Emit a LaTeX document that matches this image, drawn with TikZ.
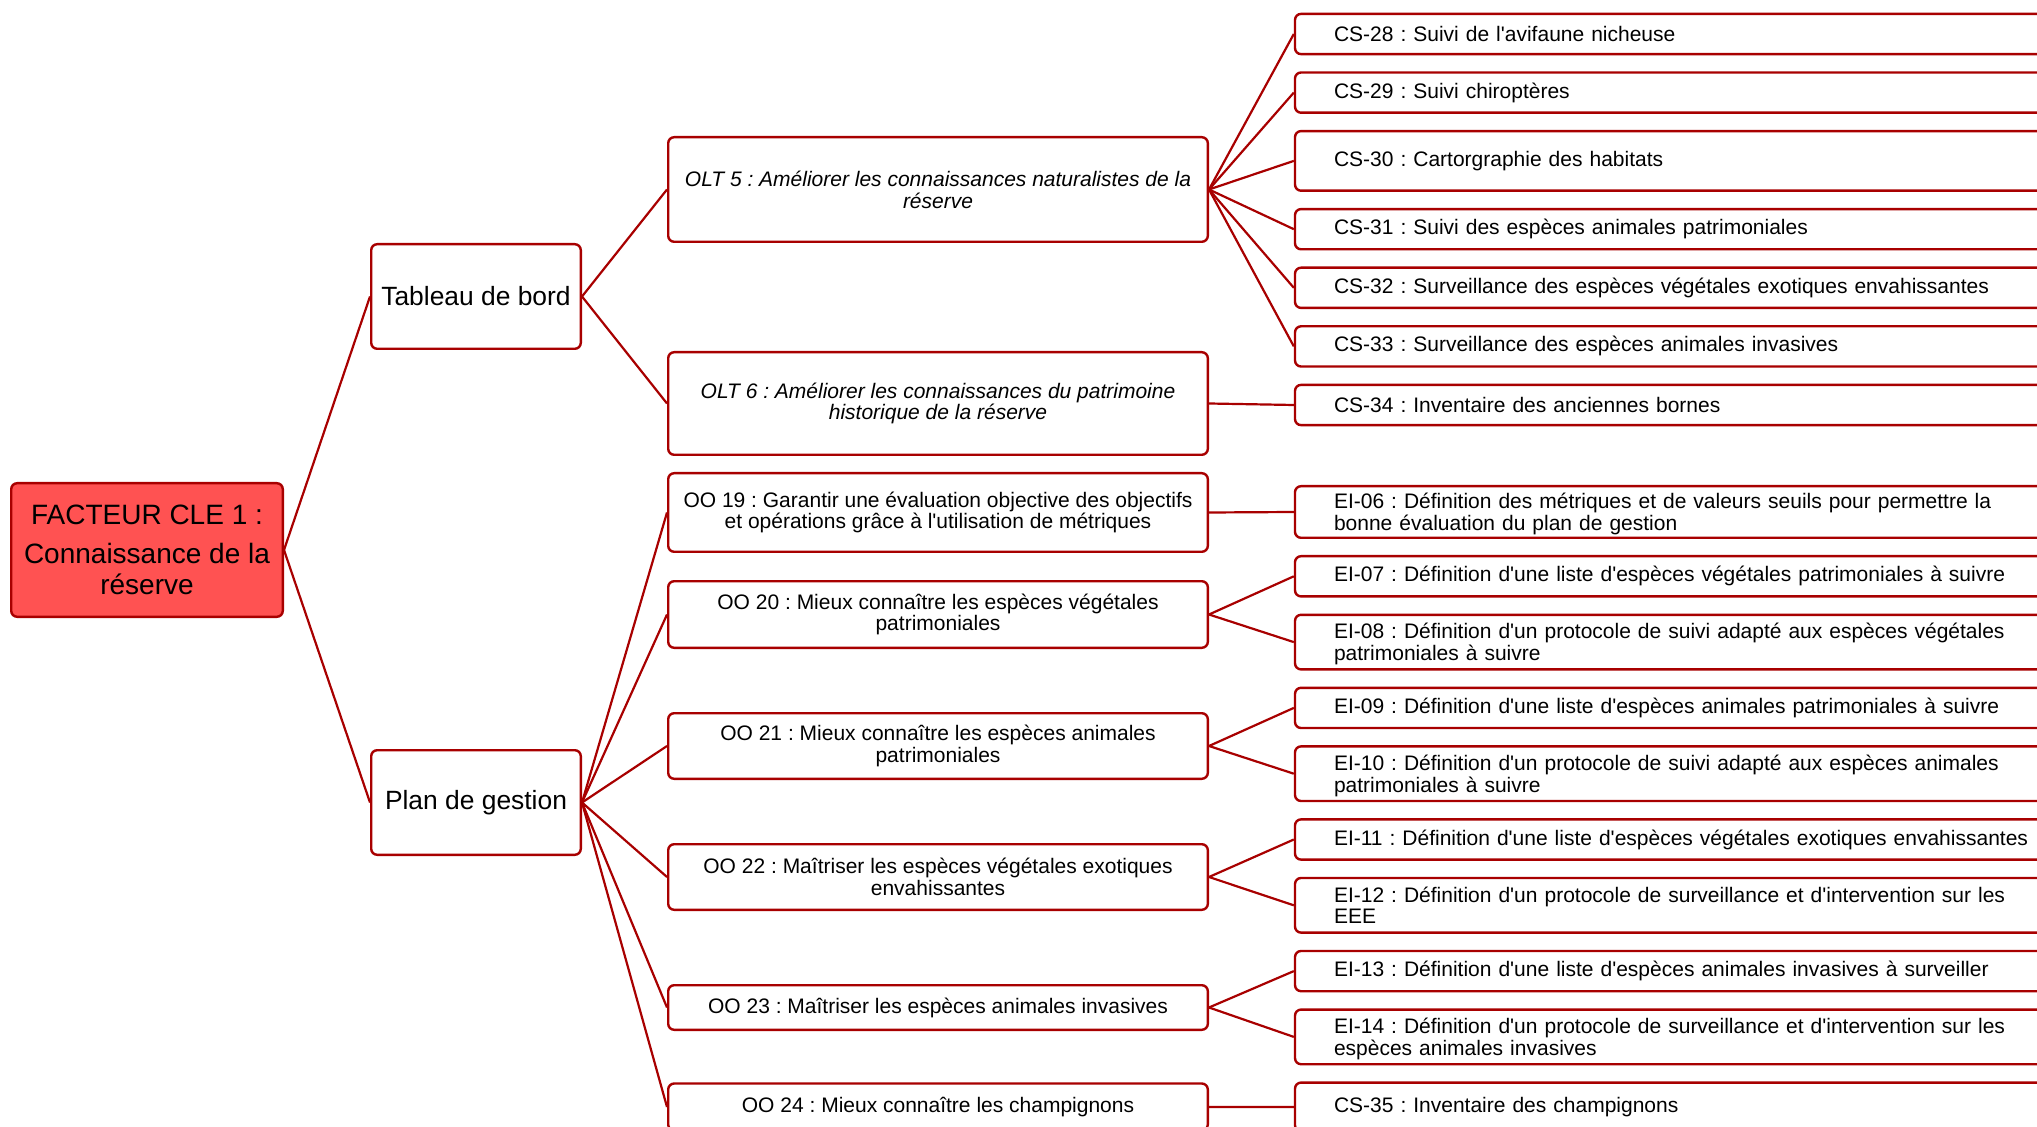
\documentclass[tikz,border=0pt]{standalone}
\usepackage{fontspec}
\setmainfont{Liberation Sans}[Ligatures=TeXOff]
\frenchspacing
\usepackage{tikz}
\usetikzlibrary{positioning}
\definecolor{bordeaux}{RGB}{168,0,0}
\definecolor{rouge}{RGB}{255,82,82}
\tikzset{
  x=0.5pt,
  y=-0.5pt,
  node distance=8pt,
  box/.style={draw=bordeaux, line width=1.2pt, rounded corners=3pt, fill=white, inner sep=0pt},
  key/.style={box, fill=rouge, minimum width=135.8pt, minimum height=66.8pt, align=center, font=\fontsize{14}{15.5}\selectfont},
  branch/.style={box, minimum width=104.8pt, minimum height=52.3pt, font=\fontsize{13.2}{14}\selectfont},
  goal/.style={box, minimum width=269.8pt, align=center, font=\fontsize{10.5}{10.9}\selectfont},
  olt/.style={goal, font=\fontsize{10.5}{10.9}\selectfont\itshape},
  leaf/.style={box, text width=360pt, inner xsep=19.5pt, minimum height=20.1pt, align=left, font=\fontsize{10.5}{10.9}\selectfont},
  two/.style={minimum height=27.3pt, text height=7.7pt, text depth=11pt},
  link/.style={draw=bordeaux, line width=1.1pt},
}

\begin{document}
\begin{tikzpicture}
      \useasboundingbox (0,0) rectangle (2037,1127);
      \clip (0,0) rectangle (2037,1127);

      \node[key]    (fc)  at (147,550)   {FACTEUR CLE 1 :\\[4pt]Connaissance de la\\réserve};
      \node[branch] (tdb) at (476,296.5) {Tableau de bord};
      \node[branch] (pdg) at (476,802.5) {Plan de gestion};

      \node[olt, minimum height=52.3pt]  (olt5) at (938,189.5) {OLT 5 : Améliorer les connaissances naturalistes de la\\réserve};
      \node[olt, minimum height=51.3pt]  (olt6) at (938,403.5) {OLT 6 : Améliorer les connaissances du patrimoine\\historique de la réserve};
      \node[goal, minimum height=39.3pt] (oo19) at (938,512.5) {OO 19 : Garantir une évaluation objective des objectifs\\et opérations grâce à l'utilisation de métriques};
      \node[goal, minimum height=33.3pt] (oo20) at (938,614.5) {OO 20 : Mieux connaître les espèces végétales\\patrimoniales};
      \node[goal, minimum height=32.8pt] (oo21) at (938,746)   {OO 21 : Mieux connaître les espèces animales\\patrimoniales};
      \node[goal, minimum height=32.8pt] (oo22) at (938,877)   {OO 22 : Maîtriser les espèces végétales exotiques\\envahissantes};
      \node[goal, minimum height=22.3pt] (oo23) at (938,1007.5) {OO 23 : Maîtriser les espèces animales invasives};
      \node[goal, minimum height=23.5pt] (oo24) at (938,1107)  {OO 24 : Mieux connaître les champignons};

      \node[leaf]                                   (cs28) at (1694,34) {CS-28 : Suivi de l'avifaune nicheuse};
      \node[leaf, below=of cs28]                    (cs29) {CS-29 : Suivi chiroptères};
      \node[leaf, below=of cs29, minimum height=29.8pt] (cs30) {CS-30 : Cartorgraphie des habitats};
      \node[leaf, below=of cs30]                    (cs31) {CS-31 : Suivi des espèces animales patrimoniales};
      \node[leaf, below=of cs31]                    (cs32) {CS-32 : Surveillance des espèces végétales exotiques envahissantes};
      \node[leaf, below=of cs32]                    (cs33) {CS-33 : Surveillance des espèces animales invasives};
      \node[leaf, below=of cs33]                    (cs34) {CS-34 : Inventaire des anciennes bornes};
      \node[leaf, two, minimum height=25.8pt]       (ei06) at (1694,512) {EI-06 : Définition des métriques et de valeurs seuils pour permettre la\\bonne évaluation du plan de gestion};
      \node[leaf, below=of ei06]                    (ei07) {EI-07 : Définition d'une liste d'espèces végétales patrimoniales à suivre};
      \node[leaf, two, below=of ei07]               (ei08) {EI-08 : Définition d'un protocole de suivi adapté aux espèces végétales\\patrimoniales à suivre};
      \node[leaf, below=of ei08]                    (ei09) {EI-09 : Définition d'une liste d'espèces animales patrimoniales à suivre};
      \node[leaf, two, below=of ei09]               (ei10) {EI-10 : Définition d'un protocole de suivi adapté aux espèces animales\\patrimoniales à suivre};
      \node[leaf, below=of ei10]                    (ei11) {EI-11 : Définition d'une liste d'espèces végétales exotiques envahissantes};
      \node[leaf, two, below=of ei11]               (ei12) {EI-12 : Définition d'un protocole de surveillance et d'intervention sur les\\EEE};
      \node[leaf, below=of ei12]                    (ei13) {EI-13 : Définition d'une liste d'espèces animales invasives à surveiller};
      \node[leaf, two, below=of ei13]               (ei14) {EI-14 : Définition d'un protocole de surveillance et d'intervention sur les\\espèces animales invasives};
      \node[leaf, below=of ei14, minimum height=24.4pt] (cs35) {CS-35 : Inventaire des champignons};

      \draw[link] (fc.east)   edge (tdb.west)
                  (fc.east)   edge (pdg.west)
                  (tdb.east)  edge (olt5.west)
                  (tdb.east)  edge (olt6.west)
                  (pdg.east)  edge (oo19.west)
                  (pdg.east)  edge (oo20.west)
                  (pdg.east)  edge (oo21.west)
                  (pdg.east)  edge (oo22.west)
                  (pdg.east)  edge (oo23.west)
                  (pdg.east)  edge (oo24.west)
                  (olt5.east) edge (cs28.west)
                  (olt5.east) edge (cs29.west)
                  (olt5.east) edge (cs30.west)
                  (olt5.east) edge (cs31.west)
                  (olt5.east) edge (cs32.west)
                  (olt5.east) edge (cs33.west)
                  (olt6.east) edge (cs34.west)
                  (oo19.east) edge (ei06.west)
                  (oo20.east) edge (ei07.west)
                  (oo20.east) edge (ei08.west)
                  (oo21.east) edge (ei09.west)
                  (oo21.east) edge (ei10.west)
                  (oo22.east) edge (ei11.west)
                  (oo22.east) edge (ei12.west)
                  (oo23.east) edge (ei13.west)
                  (oo23.east) edge (ei14.west)
                  (oo24.east) edge (cs35.west);
\end{tikzpicture}
\end{document}
